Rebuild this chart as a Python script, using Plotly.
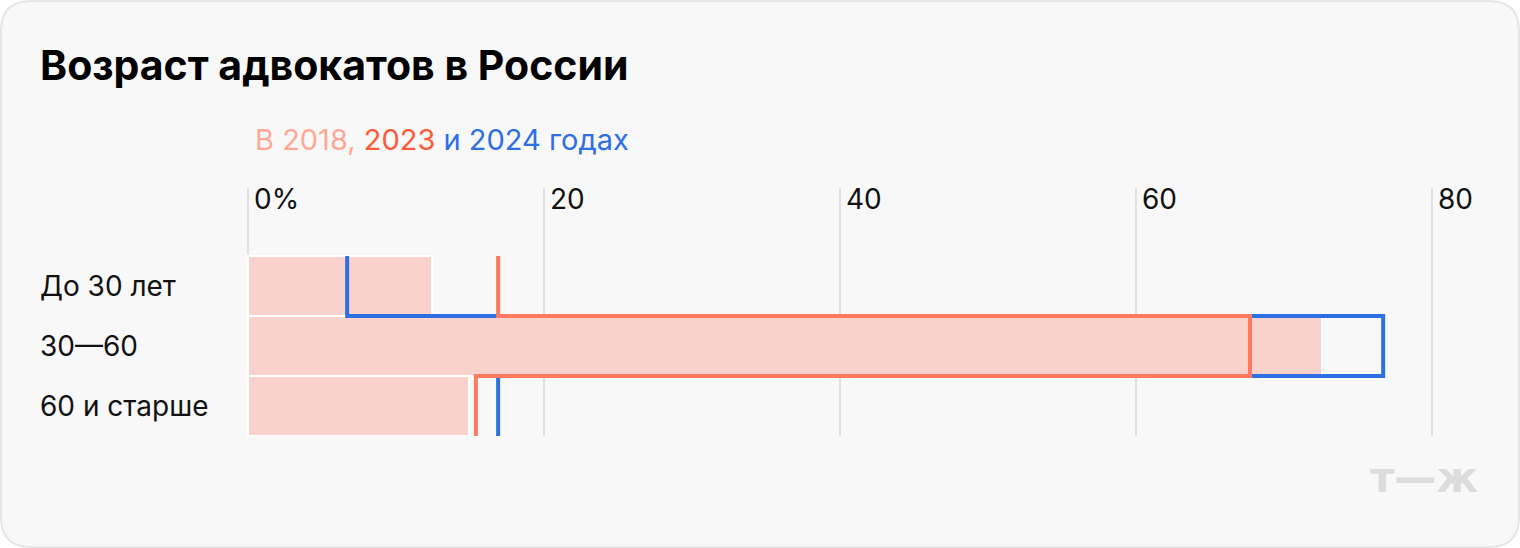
import plotly.graph_objects as go

# ---- data ----
categories = ["До 30 лет", "30—60", "60 и старше"]
share_2018 = [12.4, 72.6, 14.9]
share_2023 = [16.9, 67.7, 15.4]
share_2024 = [6.7, 76.7, 16.9]
tick_values = [0, 20, 40, 60, 80]
tick_labels = ["0%", "20", "40", "60", "80"]

# ---- styling ----
W, H = 1520, 548
PAD = 3  # px of extra room so edge gridlines get drawn
L, R, T, B = 248 - PAD, 88 - PAD, 188, 112
X_MIN, X_MAX = 0, 80
UNIT = (W - 248 - 88) / (X_MAX - X_MIN)
FONT = "Inter"
C_2018_BAR = "#F9D3CB"
C_2018_TXT = "#FFA896"
C_2023 = "#FF7A5E"
C_2023_TXT = "#FF5A3A"
C_2024 = "#2F6FE4"
GRID = "#E2E2E2"
BG = "#F8F8F8"

rows = list(range(len(categories)))


def step_line(vals):
    xs, ys = [], []
    for i, v in enumerate(vals):
        xs += [v, v]
        ys += [i - 0.5, i + 0.5]
    return xs, ys


fig = go.Figure()
fig.add_trace(go.Bar(
    x=share_2018, y=rows, orientation="h", width=1,
    marker=dict(color=C_2018_BAR, line=dict(color="white", width=2)),
    hoverinfo="skip", showlegend=False,
))
for vals, col in ((share_2024, C_2024), (share_2023, C_2023)):
    xs, ys = step_line(vals)
    fig.add_trace(go.Scatter(
        x=xs, y=ys, mode="lines",
        line=dict(color=col, width=4),
        hoverinfo="skip", showlegend=False,
    ))

pw = W - L - R
ph = H - T - B


def px(x):
    return (x - L) / pw


def py(y):
    return (H - B - y) / ph


# card background with rounded corners
x0, x1, y0, y1, r = 1, W - 1, 1, H - 1, 30
path = (
    f"M {px(x0 + r)} {py(y0)} L {px(x1 - r)} {py(y0)} "
    f"Q {px(x1)} {py(y0)} {px(x1)} {py(y0 + r)} "
    f"L {px(x1)} {py(y1 - r)} Q {px(x1)} {py(y1)} {px(x1 - r)} {py(y1)} "
    f"L {px(x0 + r)} {py(y1)} Q {px(x0)} {py(y1)} {px(x0)} {py(y1 - r)} "
    f"L {px(x0)} {py(y0 + r)} Q {px(x0)} {py(y0)} {px(x0 + r)} {py(y0)} Z"
)
fig.add_shape(type="path", path=path, xref="paper", yref="paper",
              fillcolor=BG, line=dict(color="#E6E6E6", width=2), layer="below")

annotations = [
    dict(text="<b>Возраст адвокатов в России</b>", x=px(38), y=py(65),
         xref="paper", yref="paper", xanchor="left", yanchor="middle",
         showarrow=False, font=dict(family=FONT, size=41, color="#000000")),
    dict(text=(f"<span style='color:{C_2018_TXT}'>В 2018,</span> "
               f"<span style='color:{C_2023_TXT}'>2023</span> "
               f"<span style='color:{C_2024}'>и 2024 годах</span>"),
         x=px(253), y=py(139), xref="paper", yref="paper",
         xanchor="left", yanchor="middle", showarrow=False,
         font=dict(family=FONT, size=29)),
    dict(text="<b>т—ж</b>", x=px(1480), y=py(477), xref="paper", yref="paper",
         xanchor="right", yanchor="middle", showarrow=False,
         font=dict(family="DejaVu Sans", size=42, color="#DCDCDC")),
]
for i, c in enumerate(categories):
    annotations.append(dict(
        text=c, x=px(38), y=i, xref="paper", yref="y",
        xanchor="left", yanchor="middle", showarrow=False,
        font=dict(family=FONT, size=28, color="#111111"),
    ))

fig.update_layout(
    width=W, height=H,
    margin=dict(l=L, r=R, t=T, b=B, pad=0),
    paper_bgcolor="white", plot_bgcolor="rgba(0,0,0,0)",
    bargap=0, showlegend=False,
    annotations=annotations,
    xaxis=dict(
        range=[X_MIN - PAD / UNIT, X_MAX + PAD / UNIT], side="top",
        tickvals=tick_values, ticktext=tick_labels,
        showgrid=True, gridcolor=GRID, gridwidth=2, zeroline=False,
        showline=False, ticks="", ticklabelposition="inside right",
        ticklabeloverflow="allow", ticklabelstandoff=-5, ticklabelshift=6,
        tickfont=dict(family=FONT, size=28, color="#111111"),
        fixedrange=True,
    ),
    yaxis=dict(
        range=[2.5, -1.633], showticklabels=False, showgrid=False,
        zeroline=False, showline=False, fixedrange=True,
    ),
)

fig.write_html("out.html", config={"displayModeBar": False},
               post_script="document.body.style.margin='0';")
